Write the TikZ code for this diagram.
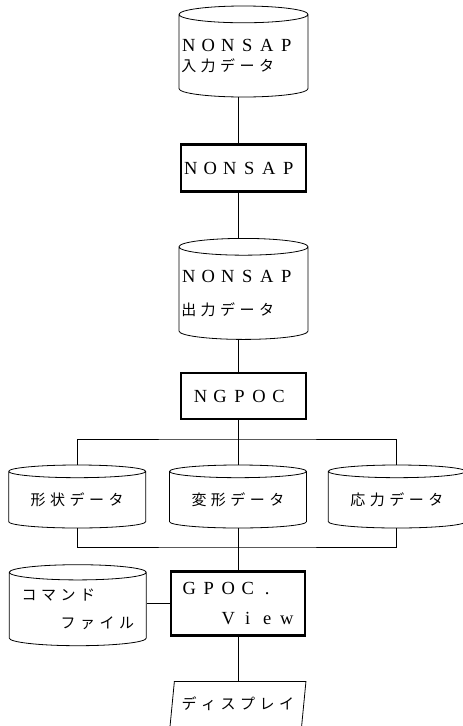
\documentclass[tikz,border=0pt]{standalone}
\usepackage{fontspec}
\setmainfont{Liberation Serif}
\newfontfamily\jp{Noto Sans CJK JP}
\usepackage{tikz}
\usetikzlibrary{shapes.geometric, calc, positioning}
\newlength\cellw
\setlength\cellw{19.5pt}
\def\gridloop#1{\ifx#1\relax\else\makebox[\cellw]{#1}\expandafter\gridloop\fi}
\newcommand\grid[1]{\gridloop#1\relax}
\newcommand\lat[1]{{\grid{#1}}}
\newcommand\kana[1]{{\jp\fontsize{15}{20}\selectfont\grid{#1}}}
\newcommand\skipcells[1]{\makebox[#1\cellw]{}}
\tikzstyle{db} = [cylinder, shape border rotate=90, aspect=0.13, draw, line width=0.8pt, inner sep=0pt]
\tikzstyle{prog} = [rectangle, draw, line width=2.6pt, inner sep=0pt]
\tikzstyle{screen} = [trapezium, trapezium left angle=74, trapezium right angle=106, trapezium stretches=true, draw, line width=0.8pt, inner sep=0pt]
\tikzstyle{line} = [line width=0.8pt]
\begin{document}
\begin{tikzpicture}[x=1pt, y=1pt, font=\fontsize{18.5}{20}\selectfont]
		\useasboundingbox (0,0) rectangle (463,-726);
		\node (NonsapIn) [db, minimum width=129pt, minimum height=91pt, text width=129pt, align=left, anchor=shape center] at (243.5,-51.5) {\lat{NONSAP}\\\kana{入力データ}};
		\node (Nonsap) [prog, minimum width=125pt, minimum height=47pt, text width=125pt, align=left, below=46pt of NonsapIn] {\lat{NONSAP}};
		\node (NonsapOut) [db, minimum width=129pt, minimum height=101pt, text width=129pt, align=left, below=45pt of Nonsap] {\lat{NONSAP}\\[13pt]\kana{出力データ}};
		\node (Ngpoc) [prog, minimum width=125pt, minimum height=46pt, text width=125pt, align=left, below=32pt of NonsapOut] {\skipcells{0.5}\lat{NGPOC}};

		\node (Deform) [db, minimum width=137pt, minimum height=63pt, anchor=shape center] at (238,-496.5) {\kana{変形データ}};
		\node (Shape) [db, minimum width=137pt, minimum height=63pt, left=23pt of Deform] {\kana{形状データ}};
		\node (Stress) [db, minimum width=137pt, minimum height=63pt, right=21pt of Deform] {\kana{応力データ}};

		\node (Gpoc) [prog, minimum width=134pt, minimum height=64pt, align=left, below=42pt of Deform] {\lat{GPOC.}\\[10pt]\skipcells{2}\lat{View}};
		\node (Command) [db, minimum width=137pt, minimum height=81pt, align=left, left=23pt of Gpoc, yshift=-5.5pt] {\kana{コマンド}\\[8pt]\skipcells{2}\kana{ファイル}};
		\node (Display) [screen, minimum width=136pt, minimum height=45pt, below=44pt of Gpoc] {\kana{ディスプレイ}};

		\coordinate (BusTop) at (238,-439);
		\coordinate (BusBottom) at (238,-547);

		\draw [line] (NonsapIn.south -| BusTop) -- (Nonsap.north -| BusTop);
		\draw [line] (Nonsap.south -| BusTop) -- (NonsapOut.north -| BusTop);
		\draw [line] (NonsapOut.south -| BusTop) -- (Ngpoc.north -| BusTop);
		\draw [line] (Ngpoc.south -| BusTop) -- (Deform.north);
		\draw [line] (Shape.north) |- (BusTop) -| (Stress.north);
		\draw [line] (Shape.south) |- (BusBottom) -| (Stress.south);
		\draw [line] (Deform.south) -- (Gpoc.north);
		\draw [line] (Gpoc.west) -- (Gpoc.west -| Command.east);
		\draw [line] (Gpoc.south) -- (Display.north);
\end{tikzpicture}
\end{document}
